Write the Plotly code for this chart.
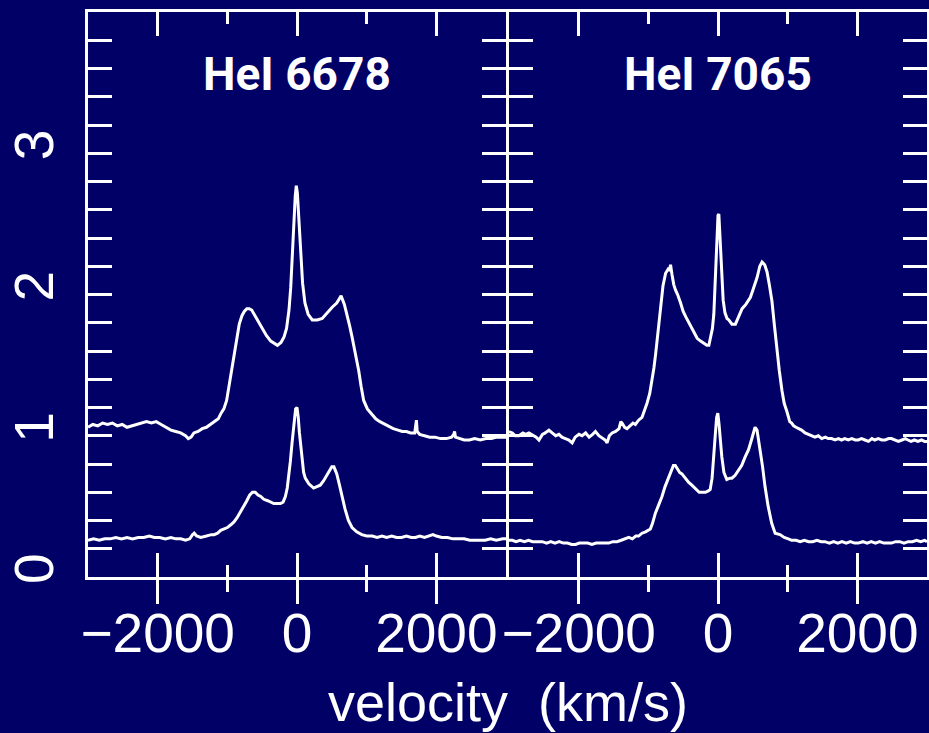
import plotly.graph_objects as go

# HeI 6678 profiles (velocity in km/s, normalised flux)
v_6678_top = [-3000, -2930, -2860, -2790, -2720, -2650, -2580, -2510, -2440, -2370, -2300, -2230, -2160, -2090,
              -2020, -1950, -1880, -1810, -1740, -1670, -1600, -1560, -1520, -1480, -1420, -1360, -1300, -1240,
              -1180, -1130, -1090, -1050, -1010, -970, -935, -900, -865, -829, -790, -757, -720, -686, -650, -615,
              -560, -496, -440, -377, -320, -281, -230, -186, -150, -115, -90, -67, -45, -25, -10, 5, 25, 52, 80,
              114, 160, 219, 290, 362, 430, 505, 570, 633, 680, 719, 755, 790, 840, 886, 920, 957, 1010, 1076,
              1130, 1190, 1267, 1330, 1381, 1450, 1510, 1571, 1630, 1690, 1705, 1714, 1725, 1760, 1830, 1905,
              1980, 2060, 2143, 2220, 2250, 2262, 2275, 2330, 2400, 2476, 2550, 2630, 2714, 2790, 2870, 2950, 3000]
f_6678_top = [1.06, 1.08, 1.07, 1.09, 1.08, 1.09, 1.07, 1.08, 1.06, 1.07, 1.08, 1.09, 1.10, 1.09,
              1.10, 1.08, 1.06, 1.04, 1.03, 1.02, 1.00, 0.98, 0.99, 1.02, 1.03, 1.05, 1.06, 1.08,
              1.10, 1.12, 1.16, 1.19, 1.25, 1.37, 1.48, 1.58, 1.70, 1.79, 1.85, 1.88, 1.90, 1.90, 1.89, 1.86,
              1.81, 1.75, 1.71, 1.67, 1.65, 1.64, 1.66, 1.70, 1.76, 1.89, 2.05, 2.29, 2.52, 2.70, 2.77, 2.72, 2.55, 2.29, 2.08,
              1.94, 1.86, 1.82, 1.82, 1.83, 1.87, 1.91, 1.94, 1.99, 1.93, 1.86, 1.78, 1.70, 1.58, 1.46, 1.35, 1.25, 1.19, 1.15,
              1.12, 1.10, 1.08, 1.06, 1.05, 1.04, 1.03, 1.03, 1.02, 1.02, 1.06, 1.11, 1.03, 1.01, 1.00, 0.99,
              0.99, 0.98, 0.98, 0.99, 1.01, 1.03, 0.99, 0.98, 0.97, 0.97, 0.98, 0.97, 0.98, 0.98, 0.99, 0.99, 0.99]

v_6678_bot = [-3000, -2920, -2840, -2760, -2680, -2600, -2520, -2440, -2360, -2280, -2200, -2120, -2048, -1970,
              -1890, -1810, -1740, -1667, -1600, -1540, -1500, -1476, -1440, -1381, -1300, -1230, -1190, -1140,
              -1095, -1050, -1000, -950, -905, -860, -810, -762, -720, -680, -640, -600, -560, -520, -476, -420,
              -380, -333, -280, -238, -200, -167, -140, -119, -95, -71, -45, -20, 0, 18, 35, 48, 75, 95, 119, 170,
              238, 290, 333, 380, 429, 470, 500, 530, 571, 610, 643, 690, 738, 790, 857, 930, 1000, 1080, 1150,
              1220, 1286, 1360, 1430, 1500, 1570, 1640, 1700, 1762, 1830, 1900, 1952, 2000, 2080, 2160, 2238,
              2320, 2400, 2480, 2560, 2619, 2700, 2780, 2860, 2952, 3000]
f_6678_bot = [0.26, 0.27, 0.26, 0.27, 0.27, 0.28, 0.27, 0.28, 0.27, 0.28, 0.28, 0.29, 0.28, 0.28,
              0.27, 0.28, 0.27, 0.27, 0.26, 0.27, 0.30, 0.31, 0.29, 0.28, 0.29, 0.30, 0.30, 0.31,
              0.33, 0.34, 0.35, 0.37, 0.39, 0.42, 0.46, 0.50, 0.54, 0.58, 0.60, 0.60, 0.58, 0.57, 0.55, 0.54,
              0.53, 0.52, 0.52, 0.52, 0.53, 0.57, 0.63, 0.71, 0.82, 0.95, 1.09, 1.19, 1.20, 1.13, 1.02, 0.95, 0.82, 0.74, 0.70, 0.66,
              0.63, 0.64, 0.65, 0.68, 0.72, 0.76, 0.78, 0.78, 0.73, 0.65, 0.57, 0.48, 0.40, 0.35, 0.32, 0.30, 0.29, 0.29, 0.28,
              0.29, 0.28, 0.29, 0.28, 0.28, 0.29, 0.28, 0.28, 0.29, 0.28, 0.29, 0.30, 0.29, 0.28, 0.28, 0.27,
              0.27, 0.27, 0.26, 0.26, 0.26, 0.26, 0.27, 0.26, 0.27, 0.27]

# HeI 7065 profiles
v_7065_top = [-3000, -2952, -2910, -2857, -2800, -2760, -2714, -2650, -2610, -2570, -2520, -2480, -2427, -2380,
              -2330, -2284, -2240, -2190, -2140, -2093, -2050, -1995, -1950, -1900, -1850, -1800, -1759, -1710,
              -1660, -1620, -1592, -1560, -1520, -1470, -1420, -1395, -1377, -1340, -1306, -1260, -1220, -1186,
              -1140, -1091, -1050, -1019, -980, -950, -920, -895, -860, -824, -790, -752, -715, -695, -681, -660,
              -635, -609, -580, -537, -500, -460, -418, -370, -330, -299, -250, -200, -160, -131, -100, -80, -60,
              -40, -20, 0, 12, 30, 50, 74, 100, 130, 155, 200, 250, 290, 346, 400, 440, 465, 500, 530, 561, 600,
              632, 670, 704, 740, 775, 810, 847, 880, 918, 950, 990, 1030, 1057, 1086, 1120, 1160, 1200, 1250,
              1300, 1350, 1391, 1440, 1490, 1540, 1582, 1630, 1680, 1730, 1773, 1820, 1870, 1920, 1970, 2012,
              2060, 2110, 2160, 2210, 2250, 2300, 2350, 2400, 2450, 2489, 2540, 2590, 2640, 2690, 2727, 2770,
              2820, 2870, 2920, 2966, 3000]
f_7065_top = [1.03, 1.02, 1.00, 1.00, 1.02, 1.01, 1.02, 1.00, 0.99, 0.97, 1.01, 1.02, 1.04, 1.02,
              1.00, 1.01, 0.99, 0.98, 0.97, 0.95, 0.99, 1.01, 1.00, 1.02, 0.99, 1.01, 1.03, 1.00,
              0.98, 0.97, 0.95, 1.00, 1.02, 1.03, 1.05, 1.10, 1.09, 1.06, 1.05, 1.07, 1.09, 1.08,
              1.11, 1.13, 1.18, 1.23, 1.30, 1.38, 1.48, 1.58, 1.75, 1.94, 2.06, 2.15, 2.18, 2.17, 2.21, 2.14,
              2.07, 2.03, 2.00, 1.94, 1.88, 1.84, 1.80, 1.75, 1.71, 1.69, 1.67, 1.65, 1.64, 1.64, 1.70, 1.76, 1.86,
              2.10, 2.40, 2.56, 2.57, 2.40, 2.15, 1.96, 1.87, 1.83, 1.82, 1.79, 1.79, 1.84, 1.90, 1.93, 1.96, 1.98, 2.03, 2.07, 2.12, 2.20,
              2.23, 2.21, 2.16, 2.06, 1.95, 1.78, 1.60, 1.46, 1.32, 1.23, 1.17, 1.10, 1.09, 1.07, 1.06, 1.05, 1.04, 1.02,
              1.01, 1.00, 0.99, 1.00, 0.98, 0.99, 0.98, 0.98, 0.97, 0.98, 0.97, 0.98, 0.97, 0.98, 0.97, 0.97,
              0.98, 0.97, 0.96, 0.98, 0.97, 0.98, 0.97, 0.97, 0.98, 0.98, 0.97, 0.96, 0.97, 0.98, 0.97, 0.96,
              0.97, 0.96, 0.97, 0.96, 0.96]

v_7065_bot = [-3000, -2952, -2900, -2840, -2780, -2720, -2660, -2600, -2523, -2460, -2400, -2340, -2280, -2220,
              -2160, -2100, -2045, -1990, -1930, -1870, -1810, -1750, -1690, -1630, -1568, -1510, -1450, -1390,
              -1329, -1280, -1230, -1180, -1140, -1091, -1040, -1000, -971, -940, -900, -860, -804, -760, -709,
              -670, -640, -613, -580, -550, -518, -470, -420, -375, -320, -270, -232, -180, -140, -112, -85, -60,
              -40, -20, -3, 15, 35, 55, 85, 110, 126, 170, 200, 246, 290, 341, 390, 437, 480, 510, 532, 560, 580,
              604, 640, 675, 720, 771, 820, 890, 950, 1010, 1057, 1120, 1180, 1240, 1300, 1360, 1420, 1480, 1534,
              1600, 1660, 1720, 1780, 1840, 1900, 1960, 2012, 2080, 2140, 2200, 2260, 2320, 2380, 2440, 2489,
              2550, 2610, 2670, 2730, 2790, 2850, 2910, 2966, 3000]
f_7065_bot = [0.26, 0.26, 0.25, 0.26, 0.25, 0.26, 0.25, 0.25, 0.25, 0.24, 0.25, 0.24, 0.25, 0.24,
              0.24, 0.23, 0.23, 0.24, 0.24, 0.24, 0.23, 0.24, 0.24, 0.24, 0.24, 0.25, 0.25, 0.26,
              0.27, 0.28, 0.27, 0.29, 0.29, 0.31, 0.32, 0.33, 0.34, 0.38, 0.45, 0.50, 0.57, 0.64, 0.71,
              0.76, 0.79, 0.79, 0.76, 0.74, 0.73, 0.70, 0.67, 0.65, 0.62, 0.60, 0.60, 0.60, 0.61, 0.62, 0.70, 0.84,
              1.00, 1.13, 1.16, 1.08, 0.95, 0.85, 0.74, 0.70, 0.69, 0.70, 0.70, 0.72, 0.75, 0.79, 0.85, 0.90, 0.97, 1.02, 1.06, 1.04, 0.98,
              0.92, 0.78, 0.64, 0.50, 0.38, 0.31, 0.30, 0.28, 0.27, 0.26, 0.26, 0.25, 0.26, 0.25, 0.25, 0.26, 0.25, 0.25,
              0.24, 0.25, 0.24, 0.25, 0.24, 0.25, 0.24, 0.24, 0.25, 0.24, 0.25, 0.24, 0.25, 0.24, 0.24, 0.24,
              0.25, 0.25, 0.24, 0.25, 0.25, 0.26, 0.25, 0.26, 0.25]

panel_titles = ["HeI 6678", "HeI 7065"]
x_range = [-3000, 3000]
y_range = [0, 4]
x_major = [-2000, 0, 2000]
x_minor = [-1000, 1000]

BG = "#000066"
FG = "white"
TICK_FONT = dict(family="Liberation Sans, Arial, sans-serif", size=55, color=FG)

# the two panels touch; leave a 3 px gap so the shared frame line is drawn once
GAP = 3 / 839
LEFT_DOMAIN = [0, 0.5 - GAP / 2]
RIGHT_DOMAIN = [0.5 + GAP / 2, 1]

fig = go.Figure()
line = dict(color=FG, width=3)
for v, f in [(v_6678_top, f_6678_top), (v_6678_bot, f_6678_bot)]:
    fig.add_trace(go.Scatter(x=v, y=f, mode="lines", line=line, xaxis="x", yaxis="y", showlegend=False))
for v, f in [(v_7065_top, f_7065_top), (v_7065_bot, f_7065_bot)]:
    fig.add_trace(go.Scatter(x=v, y=f, mode="lines", line=line, xaxis="x2", yaxis="y2", showlegend=False))
# placeholders so the overlay axes (inner tick marks + labels) are drawn
fig.add_trace(go.Scatter(x=[None], y=[None], xaxis="x3", yaxis="y", showlegend=False))
fig.add_trace(go.Scatter(x=[None], y=[None], xaxis="x4", yaxis="y2", showlegend=False))


def x_outer(domain, anchor):
    # bottom ticks that stick out below the frame
    return dict(domain=domain, anchor=anchor, range=x_range, showgrid=False, zeroline=False,
                automargin=False, showline=True, linecolor=FG, linewidth=3,
                ticks="outside", ticklen=24, tickwidth=3, tickcolor=FG,
                tickmode="array", tickvals=x_major,
                minor=dict(ticks="outside", ticklen=12, tickwidth=3, tickcolor=FG,
                           tickmode="array", tickvals=x_minor, showgrid=False),
                showticklabels=False)


def x_inner(overlay, anchor):
    # inward ticks on bottom and top, plus the tick labels
    return dict(overlaying=overlay, anchor=anchor, range=x_range, showgrid=False, zeroline=False,
                automargin=False, showline=True, linecolor=FG, linewidth=3, mirror="allticks",
                ticks="inside", ticklen=24, tickwidth=3, tickcolor=FG,
                tickmode="array", tickvals=x_major,
                minor=dict(ticks="inside", ticklen=12, tickwidth=3, tickcolor=FG,
                           tickmode="array", tickvals=x_minor, showgrid=False),
                showticklabels=True, tickfont=TICK_FONT, ticklabelstandoff=6)


def y_axis(anchor, labels):
    return dict(domain=[0, 1], anchor=anchor, range=y_range, showgrid=False, zeroline=False,
                automargin=False, showline=True, linecolor=FG, linewidth=3, mirror="allticks",
                ticks="inside", ticklen=24, tickwidth=3, tickcolor=FG,
                tick0=0, dtick=1,
                minor=dict(ticks="inside", ticklen=12, tickwidth=3, tickcolor=FG, dtick=0.2, tick0=0, showgrid=False),
                showticklabels=labels, tickangle=-90, tickfont=TICK_FONT, ticklabelstandoff=10)


fig.update_layout(
    width=929, height=733,
    margin=dict(l=88, r=2, t=12, b=156, pad=0),
    paper_bgcolor=BG, plot_bgcolor=BG,
    xaxis=x_outer(LEFT_DOMAIN, "y"),
    xaxis2=x_outer(RIGHT_DOMAIN, "y2"),
    xaxis3=x_inner("x", "y"),
    xaxis4=x_inner("x2", "y2"),
    yaxis=y_axis("x", True),
    yaxis2=y_axis("x2", False),
)

for ax, title in zip(["x", "x2"], panel_titles):
    fig.add_annotation(text=title, x=0, y=3.56, xref=ax, yref="y", showarrow=False,
                       xanchor="center", yanchor="middle",
                       font=dict(family="Roboto, sans-serif", size=46, color=FG, weight="bold"))

# axis title, placed in pixel terms below the plot frame
fig.add_annotation(text="velocity  (km/s)", x=0.5, y=-(702 - 577) / (577 - 12),
                   xref="paper", yref="paper", showarrow=False, xanchor="center", yanchor="middle",
                   font=dict(family="Liberation Sans, Arial, sans-serif", size=54, color=FG))

fig.write_html("out.html")
